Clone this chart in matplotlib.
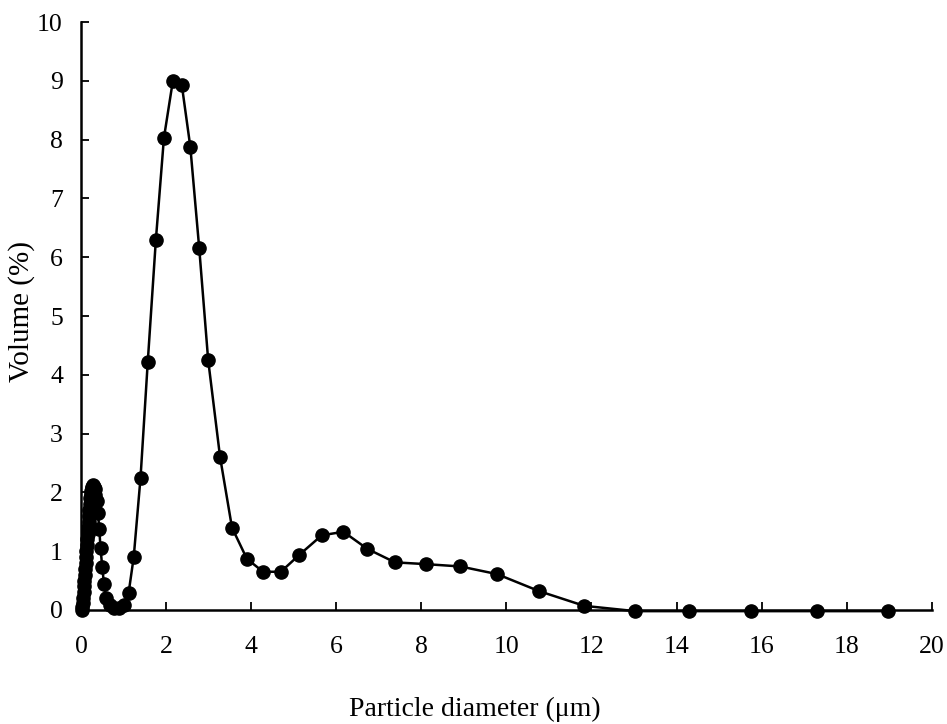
import matplotlib
matplotlib.use("Agg")
import matplotlib.pyplot as plt

diameter = [0.02, 0.03, 0.04, 0.05, 0.06, 0.07, 0.08, 0.09, 0.10, 0.11,
            0.12, 0.13, 0.14, 0.15, 0.16, 0.17, 0.18, 0.19, 0.20, 0.21,
            0.22, 0.23, 0.24, 0.25, 0.26, 0.28, 0.30, 0.32, 0.34, 0.37,
            0.40, 0.43, 0.46, 0.50, 0.54, 0.59, 0.68, 0.78, 0.90, 1.02,
            1.12, 1.24, 1.40, 1.57, 1.76, 1.95, 2.16, 2.37, 2.57, 2.78,
            2.99, 3.27, 3.55, 3.90, 4.28, 4.70, 5.12, 5.66, 6.17, 6.73,
            7.38, 8.10, 8.92, 9.78, 10.77, 11.83, 13.03, 14.30, 15.74, 17.30,
            18.96]
volume = [0.00, 0.05, 0.12, 0.20, 0.30, 0.40, 0.50, 0.60, 0.70, 0.80,
          0.90, 1.00, 1.10, 1.20, 1.30, 1.40, 1.50, 1.60, 1.70, 1.80,
          1.90, 1.97, 2.03, 2.07, 2.10, 2.12, 2.10, 2.05, 1.95, 1.85,
          1.65, 1.38, 1.05, 0.73, 0.45, 0.20, 0.08, 0.04, 0.04, 0.08,
          0.29, 0.90, 2.25, 4.22, 6.29, 8.03, 9.00, 8.93, 7.88, 6.15,
          4.25, 2.60, 1.40, 0.87, 0.65, 0.65, 0.93, 1.27, 1.33, 1.04,
          0.81, 0.78, 0.74, 0.61, 0.32, 0.07, -0.02, -0.02, -0.02, -0.02,
          -0.02]

x_ticks = [0, 2, 4, 6, 8, 10, 12, 14, 16, 18, 20]
y_ticks = [0, 1, 2, 3, 4, 5, 6, 7, 8, 9, 10]

plt.rcParams['font.family'] = ['Liberation Serif', 'DejaVu Serif']

fig = plt.figure(figsize=(9.47, 7.24), dpi=100)
ax = fig.add_axes([0.0855, 0.1575, 0.8985, 0.812])

ax.plot(diameter, volume, color='black', linewidth=1.8, marker='o',
        markersize=9.5, markerfacecolor='black', markeredgecolor='black',
        clip_on=False)

ax.set_xlim(0, 20)
ax.set_ylim(0, 10)
ax.set_xticks(x_ticks)
ax.set_yticks(y_ticks)
ax.tick_params(direction='in', length=6, width=1.3, labelsize=18.5,
               colors='black')
ax.tick_params(axis='x', pad=19)
ax.tick_params(axis='y', pad=13)
for s in ['top', 'right']:
    ax.spines[s].set_visible(False)
for s in ['left', 'bottom']:
    ax.spines[s].set_linewidth(1.8)

ax.set_xlabel('Particle diameter (\u03bcm)', fontsize=20)
ax.xaxis.set_label_coords(0.463, -0.148)
ax.set_ylabel('Volume (%)', fontsize=21)
ax.yaxis.set_label_coords(-0.054, 0.508)

fig.savefig('out.png', dpi=100)
